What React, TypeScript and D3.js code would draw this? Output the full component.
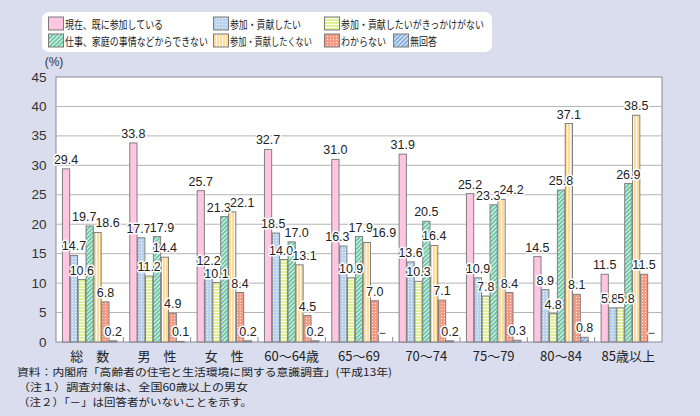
import React from "react";
import * as d3 from "d3";

const categories = ["総　数", "男　性", "女　性", "60～64歳", "65～69", "70～74", "75～79", "80～84", "85歳以上"];
const seriesNames = [
  "現在、既に参加している",
  "参加・貢献したい",
  "参加・貢献したいがきっかけがない",
  "仕事、家庭の事情などからできない",
  "参加・貢献したくない",
  "わからない",
  "無回答",
];
const sAlready = [29.4, 33.8, 25.7, 32.7, 31.0, 31.9, 25.2, 14.5, 11.5];
const sWant = [14.7, 17.7, 12.2, 18.5, 16.3, 13.6, 10.9, 8.9, 5.8];
const sNoChance = [10.6, 11.2, 10.1, 14.0, 10.9, 10.3, 7.8, 4.8, 5.8];
const sCannot = [19.7, 17.9, 21.3, 17.0, 17.9, 20.5, 23.3, 25.8, 26.9];
const sNotWant = [18.6, 14.4, 22.1, 13.1, 16.9, 16.4, 24.2, 37.1, 38.5];
const sDontKnow = [6.8, 4.9, 8.4, 4.5, 7.0, 7.1, 8.4, 8.1, 11.5];
const sNoAnswer: (number | null)[] = [0.2, 0.1, 0.2, 0.2, null, 0.2, 0.3, 0.8, null];
const yTicks = [0, 5, 10, 15, 20, 25, 30, 35, 40, 45];
const notes = [
  "資料：内閣府「高齢者の住宅と生活環境に関する意識調査」(平成13年)",
  "（注１）調査対象は、全国60歳以上の男女",
  "（注２）「－」は回答者がいないことを示す。",
];

const seriesValues: (number | null)[][] = [sAlready, sWant, sNoChance, sCannot, sNotWant, sDontKnow, sNoAnswer];

const W = 700, H = 416;
const left = 56, right = 662, top = 77, bottom = 342;
const JP = "'Noto Sans CJK JP', sans-serif";
const NUM = "'Liberation Sans', Arial, sans-serif";

const patterns = [
  { id: "p0", base: "#ffc6e2", kind: "solid" },
  { id: "p1", base: "#b9d2ee", kind: "dots" },
  { id: "p2", base: "#dcf294", kind: "hlines" },
  { id: "p3", base: "#6cc9a6", kind: "diag" },
  { id: "p4", base: "#ffdc9c", kind: "vlines" },
  { id: "p5", base: "#f79a84", kind: "dots" },
  { id: "p6", base: "#86aee0", kind: "diag" },
];

function PatternDef({ p }: { p: { id: string; base: string; kind: string } }) {
  if (p.kind === "solid") {
    return (
      <pattern id={p.id} width={4} height={4} patternUnits="userSpaceOnUse">
        <rect width={4} height={4} fill={p.base} />
      </pattern>
    );
  }
  if (p.kind === "dots") {
    return (
      <pattern id={p.id} width={3} height={3} patternUnits="userSpaceOnUse">
        <rect width={3} height={3} fill={p.base} />
        <rect width={1} height={1} fill="#ffffff" opacity={0.85} />
      </pattern>
    );
  }
  if (p.kind === "hlines") {
    return (
      <pattern id={p.id} width={3} height={3} patternUnits="userSpaceOnUse">
        <rect width={3} height={3} fill={p.base} />
        <rect width={3} height={1} fill="#ffffff" opacity={0.85} />
      </pattern>
    );
  }
  if (p.kind === "vlines") {
    return (
      <pattern id={p.id} width={3} height={3} patternUnits="userSpaceOnUse">
        <rect width={3} height={3} fill={p.base} />
        <rect width={1} height={3} fill="#ffffff" opacity={0.85} />
      </pattern>
    );
  }
  return (
    <pattern id={p.id} width={3} height={3} patternUnits="userSpaceOnUse" patternTransform="rotate(45)">
      <rect width={3} height={3} fill={p.base} />
      <rect width={1} height={3} fill="#ffffff" opacity={0.85} />
    </pattern>
  );
}

function textW(s: string) {
  let w = 0;
  for (const ch of s) w += ch === "." ? 3.5 : ch === "－" ? 10 : 6.95;
  return w;
}

export default function App() {
  const x0 = d3.scaleBand<string>().domain(categories).range([left, right]).paddingInner(0).paddingOuter(0);
  const x1 = d3
    .scaleBand<number>()
    .domain(d3.range(seriesNames.length))
    .range([0, x0.bandwidth()])
    .paddingOuter(0.82)
    .paddingInner(0.08);
  const y = d3.scaleLinear().domain([0, 45]).range([bottom, top]);

  const legendRows = [23.5, 40.5];
  const legendCols = [48, 213, 324, 393];
  const legendItems = [
    { c: 0, r: 0, w: 98 },
    { c: 1, r: 0, w: 71 },
    { c: 2, r: 0, w: 143 },
    { c: 0, r: 1, w: 143 },
    { c: 1, r: 1, w: 82 },
    { c: 2, r: 1, w: 45 },
    { c: 3, r: 1, w: 27 },
  ];

  // label layout: centered then pushed apart horizontally when they collide
  const labels = categories.map((c, ci) => {
    const arr = seriesValues.map((vals, si) => {
      const v = vals[ci];
      const cx = x0(c)! + x1(si)! + x1.bandwidth() / 2;
      const txt = v === null ? "－" : v.toFixed(1);
      const ty = v === null ? bottom - 9 : y(v) - 9;
      return { x: cx, y: ty, txt, w: textW(txt) - 1 };
    });
    for (let it = 0; it < 80; it++) {
      for (let i = 0; i < arr.length; i++) {
        for (let j = i + 1; j < arr.length; j++) {
          const a = arr[i], b = arr[j];
          if (Math.abs(a.y - b.y) >= 11) continue;
          const need = (a.w + b.w) / 2;
          const d = b.x - a.x;
          if (d < need) {
            const push = (need - d) / 2;
            a.x -= push * 0.7;
            b.x += push * 1.3;
          }
        }
      }
    }
    return arr;
  });

  return (
    <svg width={W} height={H} style={{ position: "absolute", left: 0, top: 0, display: "block" }}>
      <defs>
        {patterns.map((p) => (
          <PatternDef key={p.id} p={p} />
        ))}
      </defs>
      <rect x={0} y={0} width={W} height={H} fill="#d9ddee" />
      {/* legend */}
      <rect x={42} y={12} width={450} height={40} rx={7} fill="#ffffff" />
      {seriesNames.map((n, i) => {
        const it = legendItems[i];
        const lx = legendCols[it.c];
        const ly = legendRows[it.r];
        return (
          <g key={n}>
            <rect x={lx + 0.5} y={ly - 6.5} width={15} height={13} fill={`url(#${patterns[i].id})`} stroke="#7a7a7a" strokeWidth={1} />
            <text
              x={lx + 17}
              y={ly + 0.5}
              dominantBaseline="central"
              fontSize={11}
              fontFamily={JP}
              fill="#222"
              textLength={it.w}
              lengthAdjust="spacingAndGlyphs"
            >
              {n}
            </text>
          </g>
        );
      })}
      {/* plot */}
      <rect x={left} y={top} width={right - left} height={bottom - top} fill="#ffffff" stroke="#8a8a96" strokeWidth={1} />
      {yTicks.map((t) => (
        <g key={t}>
          {t > 0 && t < 45 && <line x1={left} x2={right} y1={y(t)} y2={y(t)} stroke="#b4b4b4" strokeWidth={1} />}
          <text x={46.5} y={y(t)} textAnchor="end" dominantBaseline="central" fontSize={13.5} fontFamily={NUM} fill="#333">
            {t}
          </text>
        </g>
      ))}
      <text x={54} y={66} textAnchor="middle" fontSize={12} fontFamily={NUM} fill="#333">
        (%)
      </text>
      {categories.map((c, ci) =>
        ci > 0 ? <line key={"t" + c} x1={x0(c)!} x2={x0(c)!} y1={bottom} y2={bottom - 5} stroke="#8a8a96" /> : null
      )}
      {categories.map((c, ci) => (
        <g key={c}>
          {seriesValues.map((vals, si) => {
            const v = vals[ci];
            if (v === null || v === undefined) return null;
            const bx = x0(c)! + x1(si)!;
            return (
              <rect
                key={si}
                x={bx}
                y={y(v)}
                width={x1.bandwidth()}
                height={bottom - y(v)}
                fill={`url(#${patterns[si].id})`}
                stroke="#7f7f7f"
                strokeWidth={1}
              />
            );
          })}
        </g>
      ))}
      {labels.map((arr, ci) => (
        <g key={"l" + ci}>
          {arr.map((l, si) => (
            <text
              key={si}
              x={l.x}
              y={l.y}
              textAnchor="middle"
              dominantBaseline="central"
              fontSize={12.5}
              fontFamily={NUM}
              fill="#222"
              stroke="#ffffff"
              strokeWidth={3}
              strokeLinejoin="round"
              paintOrder="stroke"
            >
              {l.txt}
            </text>
          ))}
        </g>
      ))}
      {categories.map((c) => (
        <text
          key={"x" + c}
          x={x0(c)! + x0.bandwidth() / 2}
          y={355}
          textAnchor="middle"
          dominantBaseline="central"
          fontSize={13}
          fontFamily={JP}
          fill="#222"
        >
          {c}
        </text>
      ))}
      {notes.map((n, i) => (
        <text
          key={n}
          x={i === 0 ? 17 : 18}
          y={371.5 + i * 15}
          dominantBaseline="central"
          fontSize={10.5}
          fontFamily={JP}
          fill="#222"
          textLength={i === 0 ? 375 : i === 1 ? 230 : 234}
          lengthAdjust="spacingAndGlyphs"
        >
          {n}
        </text>
      ))}
    </svg>
  );
}
